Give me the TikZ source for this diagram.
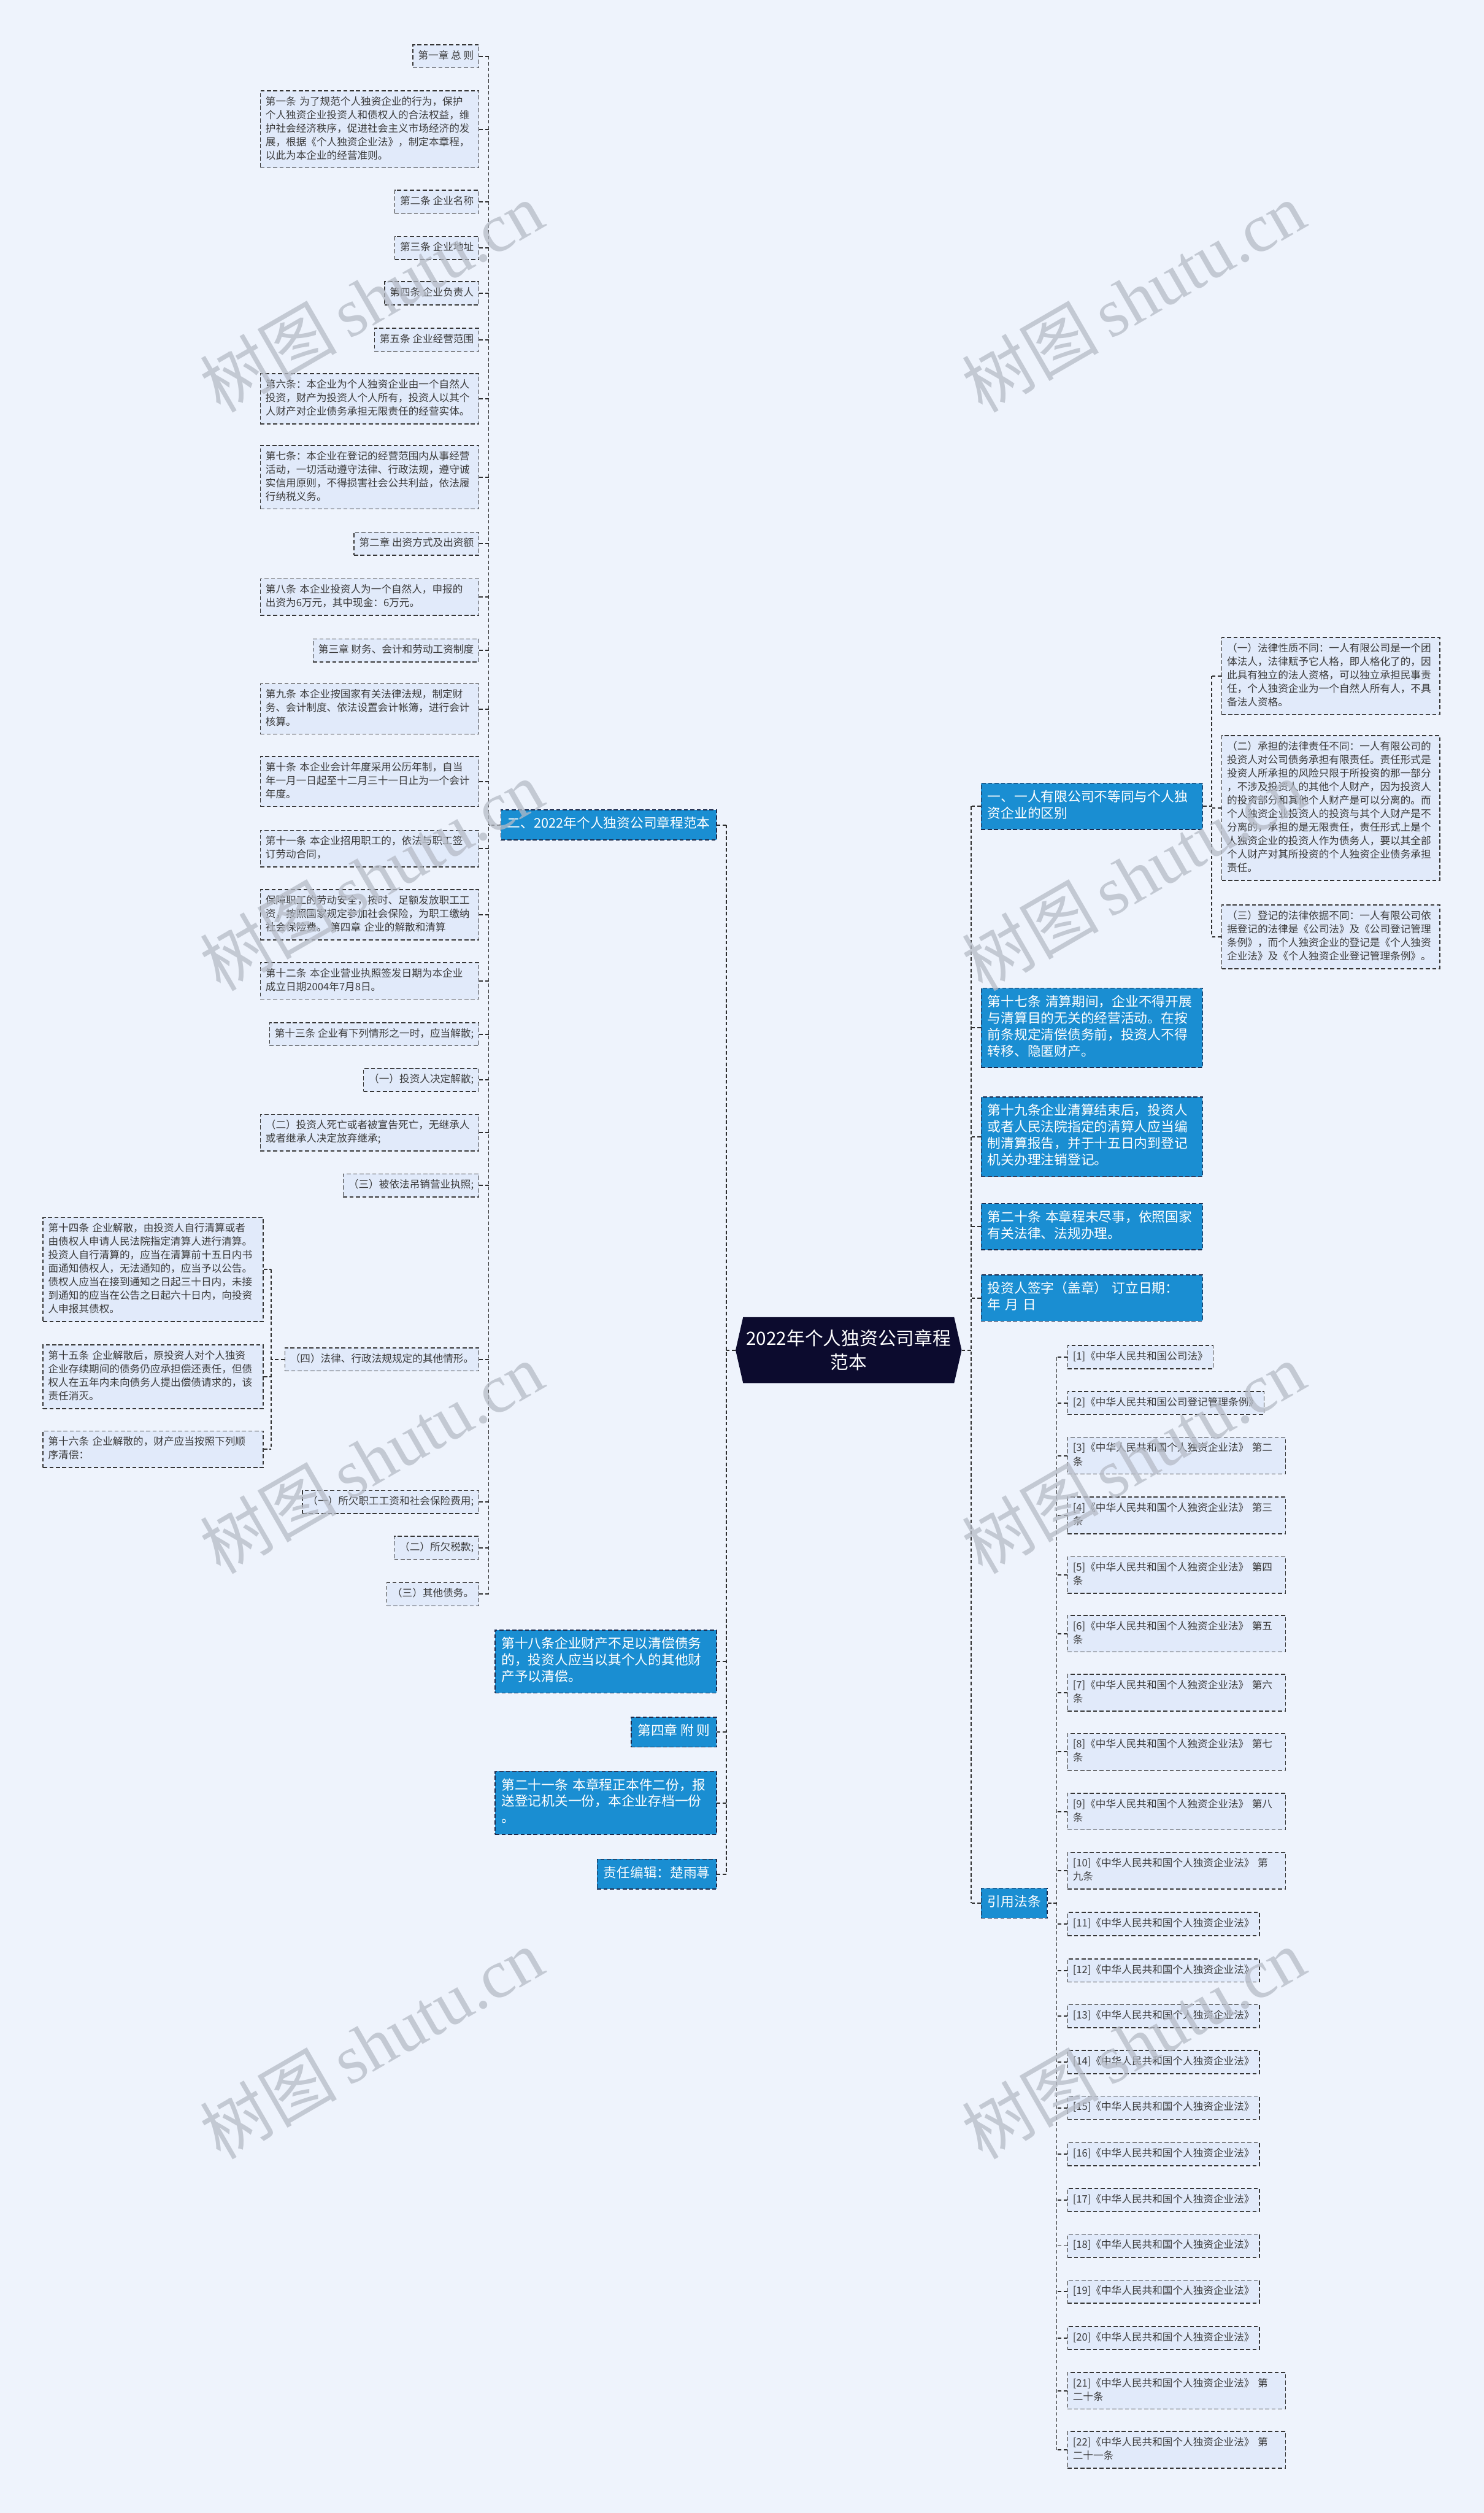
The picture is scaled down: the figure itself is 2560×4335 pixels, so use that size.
\documentclass[tikz,border=0pt]{standalone}
\usepackage{fontspec}
\setmainfont{Noto Sans CJK SC}
\newfontfamily\cjk{Noto Sans CJK SC}
\newfontfamily\wmfont{Liberation Serif}
\usetikzlibrary{calc}
\definecolor{bg}{HTML}{EEF3FC}
\definecolor{gfill}{HTML}{E1EAFA}
\definecolor{gline}{HTML}{363636}
\definecolor{gtext}{HTML}{3A3A3A}
\definecolor{bfill}{HTML}{1A8ED2}
\definecolor{bline}{HTML}{1C2A4C}
\definecolor{navy}{HTML}{0C0B2E}
\definecolor{cline}{HTML}{2E2E2E}
\definecolor{wm}{HTML}{B5BBC6}
\begin{document}
\begin{tikzpicture}[x=1pt,y=-1pt,
  gbox/.style={draw=gline, line width=1.6pt, dash pattern=on 7pt off 4pt, fill=gfill, text=gtext,
    inner xsep=9pt, inner ysep=8.3pt, font=\cjk\fontsize{17.6}{23.3}\selectfont, align=left,
    execute at begin node=\strut, execute at end node=\strut},
  bbox/.style={draw=bline, line width=1.6pt, dash pattern=on 7pt off 4pt, fill=bfill, text=white,
    inner xsep=11pt, inner ysep=11.5pt, font=\cjk\fontsize{23}{28.5}\selectfont, align=left,
    execute at begin node=\strut, execute at end node=\strut},
  rootbox/.style={inner sep=0pt, minimum width=390pt, minimum height=114pt, text=white, align=center,
    font=\cjk\fontsize{31.5}{41}\selectfont,
    path picture={\fill[navy] ([xshift=13pt]path picture bounding box.north west) -- ([xshift=-13pt]path picture bounding box.north east) -- (path picture bounding box.east) -- ([xshift=-13pt]path picture bounding box.south east) -- ([xshift=13pt]path picture bounding box.south west) -- (path picture bounding box.west) -- cycle;}},
  conn/.style={draw=cline, line width=2pt, dash pattern=on 6pt off 4pt},
  wmark/.style={rotate=30, text=wm, opacity=0.75, inner sep=0pt}
]
\fill[bg] (0,0) rectangle (2560,4335);
\useasboundingbox (0,0) rectangle (2560,4335);

% root
\node[rootbox] (root) at (1464,2329) {2022年个人独资公司章程\\范本};

% ---------- left main branch (blue) ----------
\node[bbox, anchor=east] (n2) at (1237,1423) {二、2022年个人独资公司章程范本};
\node[bbox, anchor=east, text width=360pt] (n18) at (1237,2866) {第十八条企业财产不足以清偿债务\\的，投资人应当以其个人的其他财\\产予以清偿。};
\node[bbox, anchor=east] (n4z) at (1237,2988) {第四章~附~则};
\node[bbox, anchor=east, text width=360pt] (n21) at (1237,3110) {第二十一条~本章程正本件二份，报\\送登记机关一份，本企业存档一份\\。};
\node[bbox, anchor=east] (ned) at (1237,3233) {责任编辑：楚雨荨};

% ---------- left column (children of n2) ----------
\node[gbox, anchor=east] (a1) at (827,97) {第一章~总~则};
\node[gbox, anchor=east, text width=359pt] (a2) at (827,223) {第一条~为了规范个人独资企业的行为，保护\\个人独资企业投资人和债权人的合法权益，维\\护社会经济秩序，促进社会主义市场经济的发\\展，根据《个人独资企业法》，制定本章程，\\以此为本企业的经营准则。};
\node[gbox, anchor=east] (a3) at (827,348) {第二条~企业名称};
\node[gbox, anchor=east] (a4) at (827,428) {第三条~企业地址};
\node[gbox, anchor=east] (a5) at (827,506) {第四条~企业负责人};
\node[gbox, anchor=east] (a6) at (827,586) {第五条~企业经营范围};
\node[gbox, anchor=east, text width=359pt] (a7) at (827,688) {第六条：本企业为个人独资企业由一个自然人\\投资，财产为投资人个人所有，投资人以其个\\人财产对企业债务承担无限责任的经营实体。};
\node[gbox, anchor=east, text width=359pt] (a8) at (827,823) {第七条：本企业在登记的经营范围内从事经营\\活动，一切活动遵守法律、行政法规，遵守诚\\实信用原则，不得损害社会公共利益，依法履\\行纳税义务。};
\node[gbox, anchor=east] (a9) at (827,938) {第二章~出资方式及出资额};
\node[gbox, anchor=east, text width=359pt] (a10) at (827,1030) {第八条~本企业投资人为一个自然人，申报的\\出资为6万元，其中现金：6万元。};
\node[gbox, anchor=east] (a11) at (827,1122) {第三章~财务、会计和劳动工资制度};
\node[gbox, anchor=east, text width=359pt] (a12) at (827,1223) {第九条~本企业按国家有关法律法规，制定财\\务、会计制度、依法设置会计帐簿，进行会计\\核算。};
\node[gbox, anchor=east, text width=359pt] (a13) at (827,1348) {第十条~本企业会计年度采用公历年制，自当\\年一月一日起至十二月三十一日止为一个会计\\年度。};
\node[gbox, anchor=east, text width=359pt] (a14) at (827,1464) {第十一条~本企业招用职工的，依法与职工签\\订劳动合同，};
\node[gbox, anchor=east, text width=359pt] (a15) at (827,1578) {保障职工的劳动安全，按时、足额发放职工工\\资，按照国家规定参加社会保险，为职工缴纳\\社会保险费。~第四章~企业的解散和清算};
\node[gbox, anchor=east, text width=359pt] (a16) at (827,1692) {第十二条~本企业营业执照签发日期为本企业\\成立日期2004年7月8日。};
\node[gbox, anchor=east] (a17) at (827,1784) {第十三条~企业有下列情形之一时，应当解散;};
\node[gbox, anchor=east] (a18) at (827,1863) {（一）投资人决定解散;};
\node[gbox, anchor=east, text width=359pt] (a19) at (827,1954) {（二）投资人死亡或者被宣告死亡，无继承人\\或者继承人决定放弃继承;};
\node[gbox, anchor=east] (a20) at (827,2045) {（三）被依法吊销营业执照;};
\node[gbox, anchor=east] (a21) at (827,2345) {（四）法律、行政法规规定的其他情形。};
\node[gbox, anchor=east] (a22) at (827,2591) {（一）所欠职工工资和社会保险费用;};
\node[gbox, anchor=east] (a23) at (827,2670) {（二）所欠税款;};
\node[gbox, anchor=east] (a24) at (827,2750) {（三）其他债务。};

% ---------- children of (四) ----------
\node[gbox, anchor=east, text width=362pt] (b14) at (455,2190) {第十四条~企业解散，由投资人自行清算或者\\由债权人申请人民法院指定清算人进行清算。\\投资人自行清算的，应当在清算前十五日内书\\面通知债权人，无法通知的，应当予以公告。\\债权人应当在接到通知之日起三十日内，未接\\到通知的应当在公告之日起六十日内，向投资\\人申报其债权。};
\node[gbox, anchor=east, text width=362pt] (b15) at (455,2375) {第十五条~企业解散后，原投资人对个人独资\\企业存续期间的债务仍应承担偿还责任，但债\\权人在五年内未向债务人提出偿债请求的，该\\责任消灭。};
\node[gbox, anchor=east, text width=362pt] (b16) at (455,2500) {第十六条~企业解散的，财产应当按照下列顺\\序清偿：};

% ---------- right main branch (blue) ----------
\node[bbox, anchor=west, text width=360pt] (r1) at (1692,1391) {一、一人有限公司不等同与个人独\\资企业的区别};
\node[bbox, anchor=west, text width=360pt] (r17) at (1692,1773) {第十七条~清算期间，企业不得开展\\与清算目的无关的经营活动。在按\\前条规定清偿债务前，投资人不得\\转移、隐匿财产。};
\node[bbox, anchor=west, text width=360pt] (r19) at (1692,1961) {第十九条企业清算结束后，投资人\\或者人民法院指定的清算人应当编\\制清算报告，并于十五日内到登记\\机关办理注销登记。};
\node[bbox, anchor=west, text width=360pt] (r20) at (1692,2116) {第二十条~本章程未尽事，依照国家\\有关法律、法规办理。};
\node[bbox, anchor=west, text width=360pt] (rsg) at (1692,2239) {投资人签字（盖章）~订立日期：\\年~月~日};
\node[bbox, anchor=west] (rq) at (1692,3283) {引用法条};

% ---------- children of r1 ----------
\node[gbox, anchor=west, text width=358pt] (s1) at (2107,1166) {（一）法律性质不同：一人有限公司是一个团\\体法人，法律赋予它人格，即人格化了的，因\\此具有独立的法人资格，可以独立承担民事责\\任，个人独资企业为一个自然人所有人，不具\\备法人资格。};
\node[gbox, anchor=west, text width=358pt] (s2) at (2107,1394) {（二）承担的法律责任不同：一人有限公司的\\投资人对公司债务承担有限责任。责任形式是\\投资人所承担的风险只限于所投资的那一部分\\，不涉及投资人的其他个人财产，因为投资人\\的投资部分和其他个人财产是可以分离的。而\\个人独资企业投资人的投资与其个人财产是不\\分离的，承担的是无限责任，责任形式上是个\\人独资企业的投资人作为债务人，要以其全部\\个人财产对其所投资的个人独资企业债务承担\\责任。};
\node[gbox, anchor=west, text width=358pt] (s3) at (2107,1616) {（三）登记的法律依据不同：一人有限公司依\\据登记的法律是《公司法》及《公司登记管理\\条例》，而个人独资企业的登记是《个人独资\\企业法》及《个人独资企业登记管理条例》。};

% ---------- references ----------
\node[gbox, anchor=west] (f1) at (1841,2341) {[1]《中华人民共和国公司法》};
\node[gbox, anchor=west] (f2) at (1841,2420) {[2]《中华人民共和国公司登记管理条例》};
\node[gbox, anchor=west, text width=358pt] (f3) at (1841,2511) {[3]《中华人民共和国个人独资企业法》~第二\\条};
\node[gbox, anchor=west, text width=358pt] (f4) at (1841,2614) {[4]《中华人民共和国个人独资企业法》~第三\\条};
\node[gbox, anchor=west, text width=358pt] (f5) at (1841,2717) {[5]《中华人民共和国个人独资企业法》~第四\\条};
\node[gbox, anchor=west, text width=358pt] (f6) at (1841,2818) {[6]《中华人民共和国个人独资企业法》~第五\\条};
\node[gbox, anchor=west, text width=358pt] (f7) at (1841,2920) {[7]《中华人民共和国个人独资企业法》~第六\\条};
\node[gbox, anchor=west, text width=358pt] (f8) at (1841,3022) {[8]《中华人民共和国个人独资企业法》~第七\\条};
\node[gbox, anchor=west, text width=358pt] (f9) at (1841,3125) {[9]《中华人民共和国个人独资企业法》~第八\\条};
\node[gbox, anchor=west, text width=358pt] (f10) at (1841,3227) {[10]《中华人民共和国个人独资企业法》~第\\九条};
\node[gbox, anchor=west] (f11) at (1841,3319) {[11]《中华人民共和国个人独资企业法》};
\node[gbox, anchor=west] (f12) at (1841,3399) {[12]《中华人民共和国个人独资企业法》};
\node[gbox, anchor=west] (f13) at (1841,3478) {[13]《中华人民共和国个人独资企业法》};
\node[gbox, anchor=west] (f14) at (1841,3557) {[14]《中华人民共和国个人独资企业法》};
\node[gbox, anchor=west] (f15) at (1841,3636) {[15]《中华人民共和国个人独资企业法》};
\node[gbox, anchor=west] (f16) at (1841,3716) {[16]《中华人民共和国个人独资企业法》};
\node[gbox, anchor=west] (f17) at (1841,3795) {[17]《中华人民共和国个人独资企业法》};
\node[gbox, anchor=west] (f18) at (1841,3874) {[18]《中华人民共和国个人独资企业法》};
\node[gbox, anchor=west] (f19) at (1841,3953) {[19]《中华人民共和国个人独资企业法》};
\node[gbox, anchor=west] (f20) at (1841,4033) {[20]《中华人民共和国个人独资企业法》};
\node[gbox, anchor=west, text width=358pt] (f21) at (1841,4124) {[21]《中华人民共和国个人独资企业法》~第\\二十条};
\node[gbox, anchor=west, text width=358pt] (f22) at (1841,4226) {[22]《中华人民共和国个人独资企业法》~第\\二十一条};

% ---------- trunk coordinates ----------
\coordinate (LT) at (1253,0);
\coordinate (RT) at (1675,0);
\coordinate (LC) at (843,0);
\coordinate (L4) at (468,0);
\coordinate (R1) at (2090,0);
\coordinate (RR) at (1823,0);

% left main
\draw[conn] (root.west) -- (root.west -| LT);
\draw[conn] (n2.east -| LT) -- (ned.east -| LT);
\foreach \n in {n2,n18,n4z,n21,ned} \draw[conn] (\n.east) -- (\n.east -| LT);
% left column
\draw[conn] (n2.west) -- (n2.west -| LC);
\draw[conn] (a1.east -| LC) -- (a24.east -| LC);
\foreach \n in {a1,a2,a3,a4,a5,a6,a7,a8,a9,a10,a11,a12,a13,a14,a15,a16,a17,a18,a19,a20,a21,a22,a23,a24} \draw[conn] (\n.east) -- (\n.east -| LC);
% (四)
\draw[conn] (a21.west) -- (a21.west -| L4);
\draw[conn] (b14.east -| L4) -- (b16.east -| L4);
\foreach \n in {b14,b15,b16} \draw[conn] (\n.east) -- (\n.east -| L4);
% right main
\draw[conn] (root.east) -- (root.east -| RT);
\draw[conn] (r1.west -| RT) -- (rq.west -| RT);
\foreach \n in {r1,r17,r19,r20,rsg,rq} \draw[conn] (\n.west) -- (\n.west -| RT);
% r1 children
\draw[conn] (r1.east) -- (r1.east -| R1);
\draw[conn] (s1.west -| R1) -- (s3.west -| R1);
\foreach \n in {s1,s2,s3} \draw[conn] (\n.west) -- (\n.west -| R1);
% references
\draw[conn] (rq.east) -- (rq.east -| RR);
\draw[conn] (f1.west -| RR) -- (f22.west -| RR);
\foreach \n in {f1,f2,f3,f4,f5,f6,f7,f8,f9,f10,f11,f12,f13,f14,f15,f16,f17,f18,f19,f20,f21,f22} \draw[conn] (\n.west) -- (\n.west -| RR);

% ---------- watermarks ----------
\foreach \i/\x/\y in {1/641/512, 2/1955/512, 3/641/1510, 4/1955/1510, 5/641/2515, 6/1955/2515, 7/641/3525, 8/1955/3525}
  \node[wmark] (wm\i) at (\x,\y) {\cjk\fontsize{118}{118}\selectfont 树图\,\wmfont shutu.cn};
\end{tikzpicture}
\end{document}
